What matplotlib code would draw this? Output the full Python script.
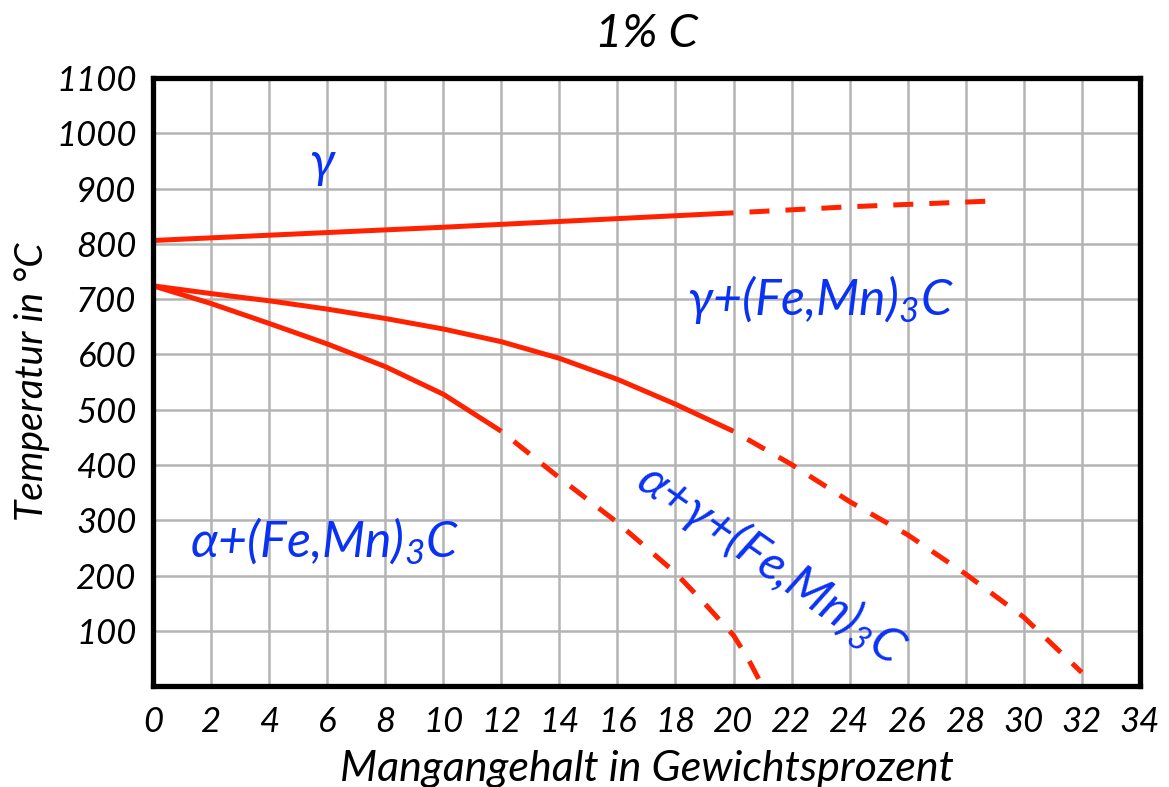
import matplotlib.pyplot as plt
from matplotlib.ticker import MultipleLocator

# Fe-Mn-C section at 1 % C
upper_solid_x = [0, 5, 10, 15, 20]
upper_solid_y = [806, 818, 830, 843, 856]
upper_dash_x = [20, 24, 28.7]
upper_dash_y = [856, 867, 877]

mid_solid_x = [0, 2, 4, 6, 8, 10, 12, 14, 16, 18, 20]
mid_solid_y = [724, 710, 697, 682, 665, 646, 623, 593, 555, 510, 461]
mid_dash_x = [20, 22, 24, 26, 28, 30, 32]
mid_dash_y = [461, 401, 334, 274, 203, 125, 25]

low_solid_x = [0, 2, 4, 6, 8, 10, 12]
low_solid_y = [724, 692, 656, 619, 578, 528, 461]
low_dash_x = [12, 14, 16, 18, 19, 20, 20.5, 21]
low_dash_y = [461, 377, 296, 205, 150, 92, 50, 0]

x_ticks = list(range(0, 35, 2))
y_ticks = list(range(100, 1101, 100))

plt.rcParams['font.family'] = ['Lato', 'Open Sans', 'DejaVu Sans']
plt.rcParams['font.style'] = 'italic'
plt.rcParams['mathtext.default'] = 'regular'

red = '#ff2200'
blue = '#0a32f5'
dash = (4, (4, 3.2))

fig = plt.figure(figsize=(11.69, 7.87), dpi=100)
ax = fig.add_axes([0.131, 0.128, 0.844, 0.773])

ax.plot(upper_solid_x, upper_solid_y, color=red, lw=3.6, solid_capstyle='butt')
ax.plot(upper_dash_x, upper_dash_y, color=red, lw=3.6, linestyle=dash)
ax.plot(mid_solid_x, mid_solid_y, color=red, lw=3.6, solid_capstyle='butt')
ax.plot(mid_dash_x, mid_dash_y, color=red, lw=3.6, linestyle=dash)
ax.plot(low_solid_x, low_solid_y, color=red, lw=3.6, solid_capstyle='butt')
ax.plot(low_dash_x, low_dash_y, color=red, lw=3.6, linestyle=dash)

ax.set_xlim(0, 34)
ax.set_ylim(0, 1100)
ax.xaxis.set_major_locator(MultipleLocator(2))
ax.yaxis.set_major_locator(MultipleLocator(100))
ax.set_xticks(x_ticks)
ax.set_yticks(y_ticks)
ax.grid(True, color='#b4b4b4', lw=1.8)
ax.set_axisbelow(True)
ax.tick_params(length=0, labelsize=25)
ax.tick_params(axis='x', pad=14)
ax.tick_params(axis='y', pad=12)
for s in ax.spines.values():
    s.set_linewidth(3.8)
    s.set_color('black')

ax.set_title('1% C', fontsize=34, pad=22)
ax.set_xlabel('Mangangehalt in Gewichtsprozent', fontsize=31, labelpad=9)
ax.set_ylabel('Temperatur in °C', fontsize=28, labelpad=4)

ax.text(5.8, 946, 'γ', color=blue, fontsize=36, ha='center', va='center')
ax.text(23.0, 700, 'γ+(Fe,Mn)$_3$C', color=blue, fontsize=36, ha='center', va='center')
ax.text(5.9, 262, 'α+(Fe,Mn)$_3$C', color=blue, fontsize=36, ha='center', va='center')
ax.text(21.3, 222, 'α+γ+(Fe,Mn)$_3$C', color=blue, fontsize=35, ha='center', va='center',
        rotation=-35, rotation_mode='anchor')

fig.savefig('out.png', dpi=100)
